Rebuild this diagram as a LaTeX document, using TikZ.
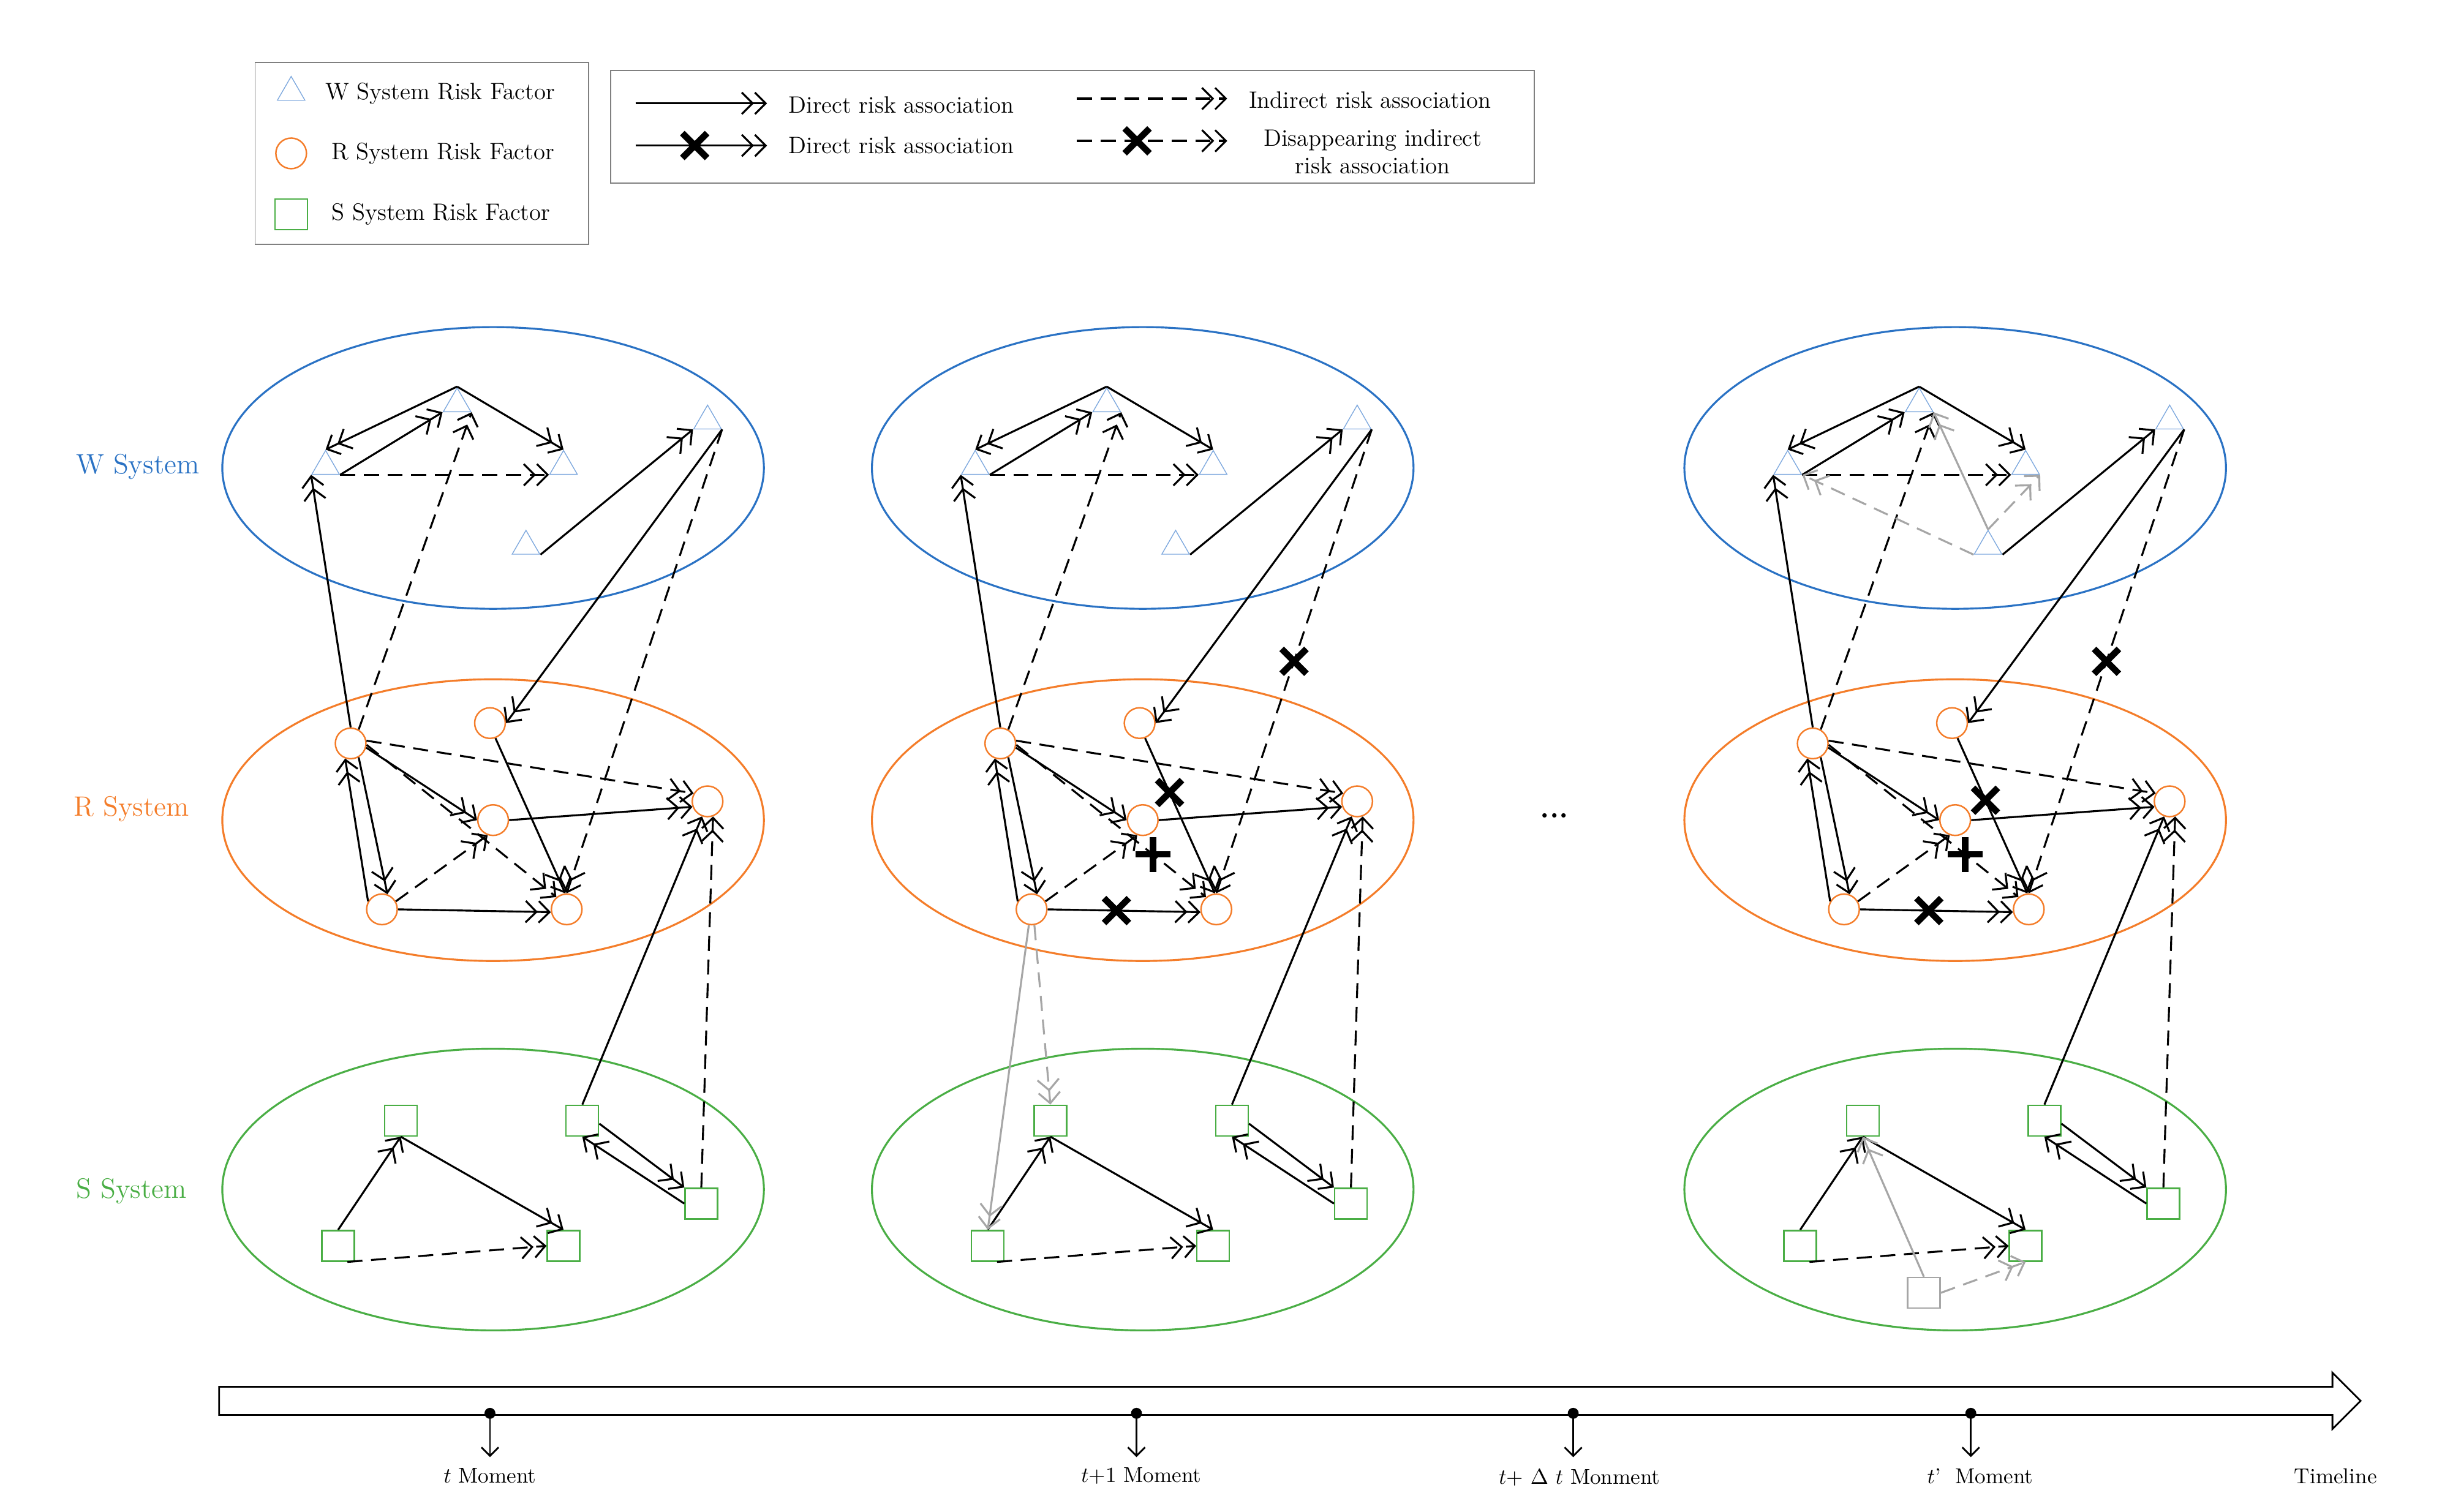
\documentclass[tikz,border=0pt]{standalone}
\usepackage{fontspec}
\usetikzlibrary{arrows.meta,shapes.geometric,shapes.misc}
\definecolor{wblue}{HTML}{2A72C4}
\definecolor{tblue}{HTML}{7FA9DE}
\definecolor{rorange}{HTML}{F47D2A}
\definecolor{sgreen}{HTML}{4AAE45}
\definecolor{gr}{HTML}{A6A6A6}
\tikzset{
  dd/.style={-{Straight Barb[length=5pt,width=10pt]Straight Barb[length=5pt,width=10pt]}},
  ed/.style={dd,line width=0.9pt,black},
  de/.style={ed,dash pattern=on 7pt off 4pt},
  ge/.style={dd,line width=0.9pt,gr},
  gd/.style={ge,dash pattern=on 7pt off 4pt},
  tri/.style={regular polygon,regular polygon sides=3,draw=tblue,line width=0.4pt,minimum size=0.52cm,inner sep=0pt},
  cir/.style={circle,draw=rorange,line width=0.7pt,minimum size=0.5cm,inner sep=0pt},
  sq/.style={rectangle,draw=sgreen,line width=0.7pt,minimum width=0.53cm,minimum height=0.5cm,inner sep=0pt},
  gsq/.style={sq,draw=gr},
  xm/.style={cross out,draw=black,line width=3pt,minimum size=0.3cm,inner sep=0pt,solid,sloped=false},
  pm/.style={xm,rotate=45},
  ell/.style={line width=0.9pt},
  lab/.style={font=\fontsize{11}{13}\selectfont},
  tl/.style={font=\fontsize{10}{12}\selectfont},
}
\newcommand{\panelbase}[2]{%
\begin{scope}[shift={(#2,0)}]
\draw[ell,wblue] (315,299) ellipse [x radius=173,y radius=90];
\draw[ell,rorange] (315,524) ellipse [x radius=173,y radius=90];
\draw[ell,sgreen] (315,760) ellipse [x radius=173,y radius=90];
\node[tri] (#1t1) at (208,298) {};
\node[tri] (#1t2) at (292,258) {};
\node[tri] (#1t3) at (360,298) {};
\node[tri] (#1t4) at (452,269) {};
\node[tri] (#1t5) at (336,349) {};
\coordinate (#1pk) at (292,247);
\node[cir] (#1r1) at (224,475) {};
\node[cir] (#1r2) at (313,462) {};
\node[cir] (#1r3) at (315,524) {};
\node[cir] (#1r4) at (452,512) {};
\node[cir] (#1r5) at (244,581) {};
\node[cir] (#1r6) at (362,581) {};
\node[sq] (#1s1) at (216,796) {};
\node[sq] (#1s4) at (256,716) {};
\node[sq] (#1s5) at (360,796) {};
\node[sq] (#1s2) at (372,716) {};
\node[sq] (#1s3) at (448,769) {};
\end{scope}
\draw[ed] (#1pk) -- (#1t1.corner 1);
\draw[ed] (#1pk) -- (#1t3.corner 1);
\draw[ed] (#1t1.corner 3) -- (#1t2.corner 2);
\draw[de] (#1t1.corner 3) -- (#1t3.corner 2);
\draw[ed] (#1t5.corner 3) -- (#1t4.corner 2);
\draw[ed] (#1t4.corner 3) -- (#1r2.east);
\draw[ed] (#1r1.north) -- (#1t1.corner 2);
\draw[de] (#1r1.60) -- (#1t2.corner 3);
\draw[de] (#1r1.10) -- (#1r4.150);
\draw[ed] (#1r1.-15) -- (#1r3.180);
\draw[ed] (#1r1.-60) -- (#1r5.70);
\draw[ed] (#1r5.150) -- (#1r1.250);
\draw[de] (#1r5.30) -- (#1r3.250);
\draw[ed] (#1r3.east) -- (#1r4.200);
\draw[ed] (#1s2.north) -- (#1r4.250);
\draw[de] (#1s3.north) -- (#1r4.290);
\draw[ed] (#1s1.north) -- (#1s4.south);
\draw[ed] (#1s4.south) -- (#1s5.north);
\draw[de] (#1s1.-60) -- (#1s5.west);
\draw[ed] (#1s2.-10) -- (#1s3.north west);
\draw[ed] (#1s3.west) -- (#1s2.south);
}
\begin{document}
\begin{tikzpicture}[x=0.02556cm,y=-0.02556cm]
\useasboundingbox (0,0) rectangle (1560,966);
% legends
\draw[gray,line width=0.5pt] (163,40) rectangle (376,156);
\node[tri] (lt) at (186,59) {};
\node[lab,anchor=west] (ltx) at (203,60) {W System Risk Factor};
\node[cir] (lc) at (186,98) {};
\node[lab,anchor=west] (lcx) at (207,98) {R System Risk Factor};
\node[sq] (ls) at (186,137) {};
\node[lab,anchor=west] (lsx) at (207,137) {S System Risk Factor};
\draw[gray,line width=0.5pt] (390,45) rectangle (980,117);
\coordinate (a1) at (406,66); \coordinate (a2) at (490,66);
\coordinate (b1) at (406,93); \coordinate (b2) at (490,93);
\coordinate (c1) at (688,63); \coordinate (c2) at (784,63);
\coordinate (d1) at (688,90); \coordinate (d2) at (784,90);
\draw[ed] (a1) -- (a2);
\draw[ed] (b1) -- node[xm,pos=0.45]{} (b2);
\draw[de] (c1) -- (c2);
\draw[de] (d1) -- node[xm,pos=0.4]{} (d2);
\node[lab,anchor=west] (ta) at (499,67) {Direct risk association};
\node[lab,anchor=west] (tb) at (499,93) {Direct risk association};
\node[lab,anchor=west] (tc) at (793,64) {Indirect risk association};
\node[lab,align=center] (td) at (877,97) {Disappearing indirect\\risk association};
% system labels
\node[font=\fontsize{13}{15}\selectfont,text=wblue] (lw) at (88,298) {W System};
\node[font=\fontsize{13}{15}\selectfont,text=rorange] (lr) at (84,517) {R System};
\node[font=\fontsize{13}{15}\selectfont,text=sgreen] (lsg) at (84,761) {S System};
% panel 1
\panelbase{a}{0}
\draw[de] (at4.corner 3) -- (ar6.north);
\draw[de] (ar1.-5) -- (ar6.130);
\draw[ed] (ar5.east) -- (ar6.190);
\draw[ed] (ar2.-70) -- (ar6.95);
% panel 2
\panelbase{b}{415}
\draw[de] (bt4.corner 3) -- node[xm,pos=0.5]{} (br6.north);
\draw[de] (br1.-5) -- node[pm,pos=0.72]{} (br6.130);
\draw[ed] (br5.east) -- node[xm,pos=0.45]{} (br6.190);
\draw[ed] (br2.-70) -- node[xm,pos=0.35]{} (br6.95);
\draw[ge] (br5.260) -- (bs1.north);
\draw[gd] (br5.-80) -- (bs4.north);
% panel 3
\panelbase{c}{934}
\draw[de] (ct4.corner 3) -- node[xm,pos=0.5]{} (cr6.north);
\draw[de] (cr1.-5) -- node[pm,pos=0.72]{} (cr6.130);
\draw[ed] (cr5.east) -- node[xm,pos=0.45]{} (cr6.190);
\draw[ed] (cr2.-70) -- node[xm,pos=0.4]{} (cr6.95);
\draw[ge] (ct5.corner 1) -- (ct2.corner 3);
\draw[gd] (ct5.corner 2) -- (ct1.corner 3);
\draw[gd] (ct5.corner 1) -- (ct3.corner 3);
\node[gsq] (cs6) at (1229,826) {};
\draw[ge] (cs6.north) -- (cs4.south);
\draw[gd] (cs6.east) -- (cs5.south);
% dots
\node[font=\bfseries\fontsize{14}{14}\selectfont] (dots) at (993,521) {...};
% timeline
\draw[line width=0.8pt] (140,886) -- (1490,886) -- (1490,877) -- (1508,895) -- (1490,913) -- (1490,904) -- (140,904) -- cycle;
\foreach \n/\x in {m1/313,m2/726,m3/1005,m4/1259}{
  \fill (\x,903) circle[radius=3.5];
  \coordinate (\n a) at (\x,903);
  \coordinate (\n b) at (\x,931);
  \draw[line width=0.8pt,-{Straight Barb[length=4pt,width=8pt]}] (\n a) -- (\n b);
}
\node[tl] (l1) at (313,943) {$t$ Moment};
\node[tl] (l2) at (729,943) {$t$+1 Moment};
\node[tl] (l3) at (1009,944) {$t$+ $\Delta$ $t$ Monment};
\node[tl] (l4) at (1265,943) {$t$’\ \ Moment};
\node[tl] (l5) at (1492,943) {Timeline};
\end{tikzpicture}
\end{document}
